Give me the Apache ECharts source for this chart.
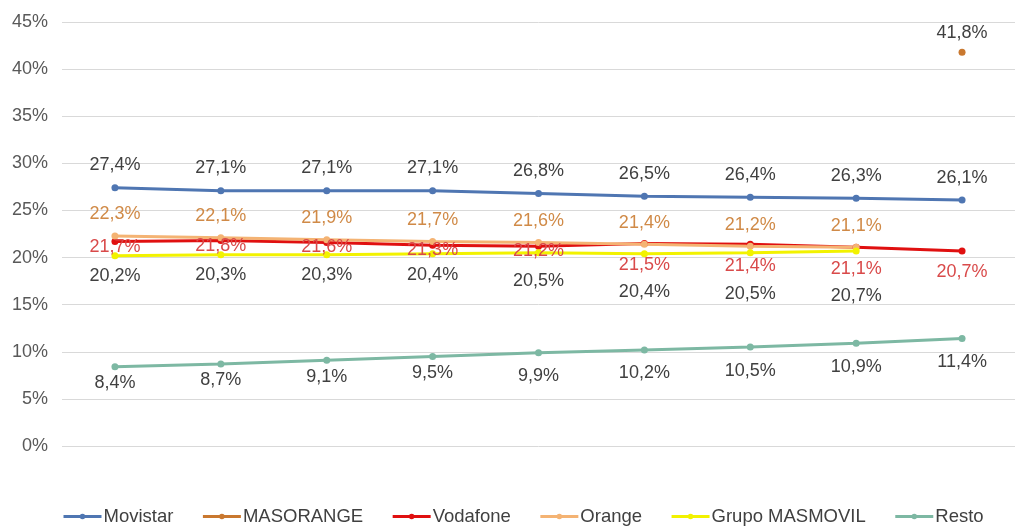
<!DOCTYPE html>
<html>
<head>
<meta charset="utf-8">
<script src="https://cdn.jsdelivr.net/npm/echarts@6/dist/echarts.min.js"></script>
<style>
  html, body { margin: 0; padding: 0; background: #fff; }
  #chart { width: 1015px; height: 527px; }
</style>
</head>
<body>
<div id="chart"></div>
<script>
// periodos (sin etiqueta visible en el eje)
var categories = ['P1', 'P2', 'P3', 'P4', 'P5', 'P6', 'P7', 'P8', 'P9'];

var movistar   = [27.4, 27.1, 27.1, 27.1, 26.8, 26.5, 26.4, 26.3, 26.1];
var masorange  = [null, null, null, null, null, null, null, null, 41.8];
var vodafone   = [21.7, 21.8, 21.6, 21.3, 21.2, 21.5, 21.4, 21.1, 20.7];
var orange     = [22.3, 22.1, 21.9, 21.7, 21.6, 21.4, 21.2, 21.1, null];
var masmovil   = [20.2, 20.3, 20.3, 20.4, 20.5, 20.4, 20.5, 20.7, null];
var resto      = [8.4, 8.7, 9.1, 9.5, 9.9, 10.2, 10.5, 10.9, 11.4];

var yTicks = [0, 45, 5]; // min, max, intervalo

var FONT = 'Liberation Sans';

function pct(v) {
    return v.toFixed(1).replace('.', ',') + '%';
}

/**
 * serie de linea con etiquetas
 * @param name nombre
 * @param values datos
 * @param color color de linea
 * @param labelColor color de etiqueta
 * @param labelFn function(i) -> {position, distance, offset}
 */
function lineSerie(name, values, color, labelColor, labelFn) {
    var data = values.map(function (v, i) {
        if (v === null) return null;
        return {
            value: v,
            label: labelFn(i)
        };
    });
    return {
        name: name,
        type: 'line',
        data: data,
        symbol: 'circle',
        symbolSize: 7,
        connectNulls: false,
        lineStyle: { color: color, width: 3 },
        itemStyle: { color: color },
        label: {
            show: true,
            color: labelColor,
            fontFamily: FONT,
            fontSize: 18,
            formatter: function (p) { return pct(p.value); }
        },
        emphasis: { disabled: true }
    };
}

var chart = echarts.init(document.getElementById('chart'));

var option = {
    animation: false,
    grid: {
        left: 62,
        right: -11,
        top: 22,
        bottom: 81
    },
    legend: {
        left: 57,
        top: 502,
        itemWidth: 38,
        itemHeight: 7,
        itemGap: 28,
        lineStyle: { width: 3 },
        textStyle: {
            color: '#404040',
            fontFamily: FONT,
            fontSize: 18.5,
            padding: [0, 0, 0, -3]
        },
        data: ['Movistar', 'MASORANGE', 'Vodafone', 'Orange', 'Grupo MASMOVIL', 'Resto']
    },
    xAxis: {
        type: 'category',
        data: categories,
        boundaryGap: true,
        axisLine: { show: false },
        axisTick: { show: false },
        axisLabel: { show: false }
    },
    yAxis: {
        type: 'value',
        min: yTicks[0],
        max: yTicks[1],
        interval: yTicks[2],
        axisLine: { show: false },
        axisTick: { show: false },
        axisLabel: {
            formatter: '{value}%',
            color: '#595959',
            fontFamily: FONT,
            fontSize: 18,
            margin: 14
        },
        splitLine: { lineStyle: { color: '#D9D9D9', width: 1 } }
    },
    series: [
        lineSerie('Movistar', movistar, '#4F76B2', '#404040', function () {
            return { position: 'top', distance: 10 };
        }),
        lineSerie('MASORANGE', masorange, '#C9782F', '#404040', function () {
            return { position: 'top', distance: 7 };
        }),
        lineSerie('Vodafone', vodafone, '#E01010', '#D94A4A', function (i) {
            return i < 5 ? { position: 'inside', offset: [0, 5] }
                         : { position: 'bottom', distance: 9 };
        }),
        lineSerie('Orange', orange, '#F4B373', '#D08A47', function () {
            return { position: 'top', distance: 9 };
        }),
        lineSerie('Grupo MASMOVIL', masmovil, '#F2F200', '#404040', function (i) {
            var d = [8, 8, 8, 9, 16, 26, 29, 33];
            return { position: 'bottom', distance: d[i] };
        }),
        lineSerie('Resto', resto, '#7DB8A3', '#404040', function (i) {
            return { position: 'bottom', distance: i < 4 ? 4 : 11 };
        })
    ]
};

chart.setOption(option);
</script>
</body>
</html>
